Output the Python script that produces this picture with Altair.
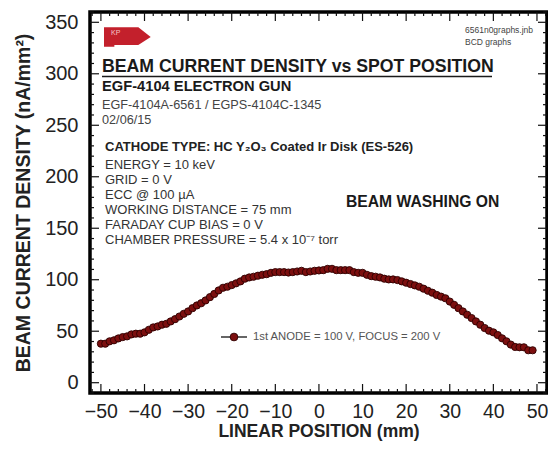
import altair as alt
import pandas as pd

# ---- data ----
positions = list(range(-50, 50))
density = [
    37.9, 37.9, 40.2, 41.2, 43.0, 44.3, 45.0, 46.9, 47.6, 47.6,
    48.9, 51.4, 53.7, 54.6, 56.3, 57.2, 59.5, 61.7, 64.3, 66.9,
    69.2, 72.4, 75.0, 77.2, 79.9, 83.1, 86.2, 89.6, 92.2, 93.2,
    94.8, 96.5, 98.4, 101.0, 102.2, 102.9, 103.9, 104.8, 105.4, 106.7,
    107.4, 107.4, 107.4, 107.0, 107.4, 108.0, 108.7, 107.4, 108.0, 108.7,
    109.0, 109.3, 110.6, 110.6, 109.3, 109.3, 109.3, 109.3, 107.4, 106.7,
    106.7, 104.8, 103.5, 102.9, 102.2, 101.0, 100.3, 100.3, 99.7, 98.4,
    97.1, 95.8, 94.5, 93.2, 91.3, 89.3, 87.4, 85.2, 83.6, 82.0,
    78.8, 75.6, 72.4, 69.2, 66.0, 62.8, 59.5, 56.3, 53.1, 50.5,
    48.9, 46.3, 43.1, 40.2, 37.0, 34.7, 34.4, 34.4, 31.5, 31.5,
]
x_label_values = [-50, -40, -30, -20, -10, 0, 10, 20, 30, 40, 50]
y_label_values = [0, 50, 100, 150, 200, 250, 300, 350]
x_major_ticks = x_label_values
x_minor_ticks = [v for v in range(-52, 53, 2) if v % 10 != 0]
y_major_ticks = y_label_values
y_minor_ticks = [v for v in range(-10, 361, 10) if v % 50 != 0]

title_text = "BEAM CURRENT DENSITY vs SPOT POSITION"
gun_text = "EGF-4104 ELECTRON GUN"
id_text = "EGF-4104A-6561 / EGPS-4104C-1345"
date_text = "02/06/15"
cathode_text = "CATHODE TYPE:  HC Y\u2082O\u2083 Coated Ir Disk (ES-526)"
param_lines = [
    "ENERGY = 10 keV",
    "GRID = 0 V",
    "ECC @ 100 \u00b5A",
    "WORKING DISTANCE = 75 mm",
    "FARADAY CUP BIAS = 0 V",
    "CHAMBER PRESSURE = 5.4 x 10\u207b\u2077 torr",
]
washing_text = "BEAM WASHING ON"
file_lines = ["6561n0graphs.jnb", "BCD graphs"]
kp_text = "KP"
legend_text = "1st ANODE = 100 V, FOCUS = 200 V"

W, H = 457, 381
FONT = "Liberation Sans"

df = pd.DataFrame({"pos": positions, "bcd": density})

xscale = alt.Scale(domain=[-52.5, 52.3], nice=False, zero=False)
yscale = alt.Scale(domain=[-10, 360], nice=False, zero=False)

x_axis = alt.Axis(values=x_label_values, ticks=False, domain=False, grid=False,
                  labelFontSize=19.5, labelPadding=9, labelColor="#222",
                  title="LINEAR POSITION (mm)", titleFontSize=17.5,
                  titleFontWeight="bold", titleColor="#222", titlePadding=2)
y_axis = alt.Axis(values=y_label_values, ticks=False, domain=False, grid=False,
                  labelFontSize=20, labelPadding=12, labelColor="#222",
                  title="BEAM CURRENT DENSITY (nA/mm\u00b2)", titleFontSize=19.5,
                  titleFontWeight="bold", titleColor="#222", titlePadding=11)


def X(field):
    return alt.X(field, type="quantitative", scale=xscale, axis=x_axis)


def Y(field):
    return alt.Y(field, type="quantitative", scale=yscale, axis=y_axis)


base = alt.Chart(df)
line = base.mark_line(color="#3a0000", strokeWidth=1.2).encode(x=X("pos"), y=Y("bcd"))
points = base.mark_point(filled=True, shape="circle", size=52, fill="#7c0f0f",
                         stroke="#2e0000", strokeWidth=0.9, opacity=1).encode(
    x=X("pos"), y=Y("bcd"))


def xticks(vals, length, bottom=True):
    d = pd.DataFrame({"v": vals})
    if bottom:
        yy, yy2 = H, H - length
    else:
        yy, yy2 = 0, length
    return alt.Chart(d).mark_rule(color="#111", strokeWidth=1.2).encode(
        x=X("v"), y=alt.value(yy), y2=alt.value(yy2))


def yticks(vals, length, left=True):
    d = pd.DataFrame({"v": vals})
    if left:
        xx, xx2 = 0, length
    else:
        xx, xx2 = W, W - length
    return alt.Chart(d).mark_rule(color="#111", strokeWidth=1.2).encode(
        y=Y("v"), x=alt.value(xx), x2=alt.value(xx2))


tick_layers = [
    xticks(x_major_ticks, 9, True), xticks(x_minor_ticks, 4, True),
    xticks(x_major_ticks, 9, False), xticks(x_minor_ticks, 4, False),
    yticks(y_major_ticks, 9, True), yticks(y_minor_ticks, 4, True),
    yticks(y_major_ticks, 9, False), yticks(y_minor_ticks, 4, False),
]


def label(txt, x, y, size, weight="normal", color="#222", align="left"):
    d = pd.DataFrame({"t": [txt]})
    return alt.Chart(d).mark_text(align=align, baseline="middle", fontSize=size,
                                  fontWeight=weight, color=color, font=FONT).encode(
        text="t:N", x=alt.value(x), y=alt.value(y))


one = pd.DataFrame({"k": [0]})

text_layers = [
    label(title_text, 12, 55, 17.7, "bold", "#1a1a1a"),
    alt.Chart(one).mark_rule(color="#1a1a1a", strokeWidth=1.6).encode(
        x=alt.value(12), x2=alt.value(402), y=alt.value(64.5)),
    label(gun_text, 12, 75, 14.7, "bold", "#1a1a1a"),
    label(id_text, 12, 93, 12.7, "normal", "#444"),
    label(date_text, 12, 108, 12.7, "normal", "#444"),
    label(cathode_text, 15, 135, 13, "bold", "#222"),
    label(washing_text, 256, 190, 15.7, "bold", "#1a1a1a"),
    label(file_lines[0], 375, 18, 8.5, "normal", "#444"),
    label(file_lines[1], 375, 30, 8.5, "normal", "#444"),
]
for i, ln in enumerate(param_lines):
    text_layers.append(label(ln, 15, 153 + 15 * i, 13, "normal", "#333"))

kp_shape = alt.Chart(one).mark_point(
    filled=True, fill="#c3202c", stroke="#c3202c", opacity=1, size=1936,
    shape="M -1 -0.4 L 0.5 -0.4 L 1 0 L 0.5 0.32 L -0.62 0.32 L -0.62 0.4 L -1 0.4 Z",
).encode(x=alt.value(37), y=alt.value(25))
kp_label = label(kp_text, 21, 21, 7, "normal", "#f3c4c8")

legend_line = alt.Chart(one).mark_rule(color="#333", strokeWidth=1.5).encode(
    x=alt.value(131), x2=alt.value(157), y=alt.value(325))
legend_pt = alt.Chart(one).mark_point(filled=True, shape="circle", size=60,
                                      fill="#7c0f0f", stroke="#2e0000",
                                      strokeWidth=0.9, opacity=1).encode(
    x=alt.value(144), y=alt.value(325))
legend_lbl = label(legend_text, 163, 325, 11.3, "normal", "#555")

chart = alt.layer(
    line, points, *tick_layers, *text_layers, kp_shape, kp_label,
    legend_line, legend_pt, legend_lbl,
).properties(
    width=W, height=H,
    autosize=alt.AutoSizeParams(type="none"),
    padding={"left": 82, "top": 4, "right": 1, "bottom": 49},
).configure(
    font=FONT, background="white"
).configure_view(
    stroke="#000", strokeWidth=3.5
)

chart.save("out.html", embed_options={"renderer": "svg", "actions": False})
